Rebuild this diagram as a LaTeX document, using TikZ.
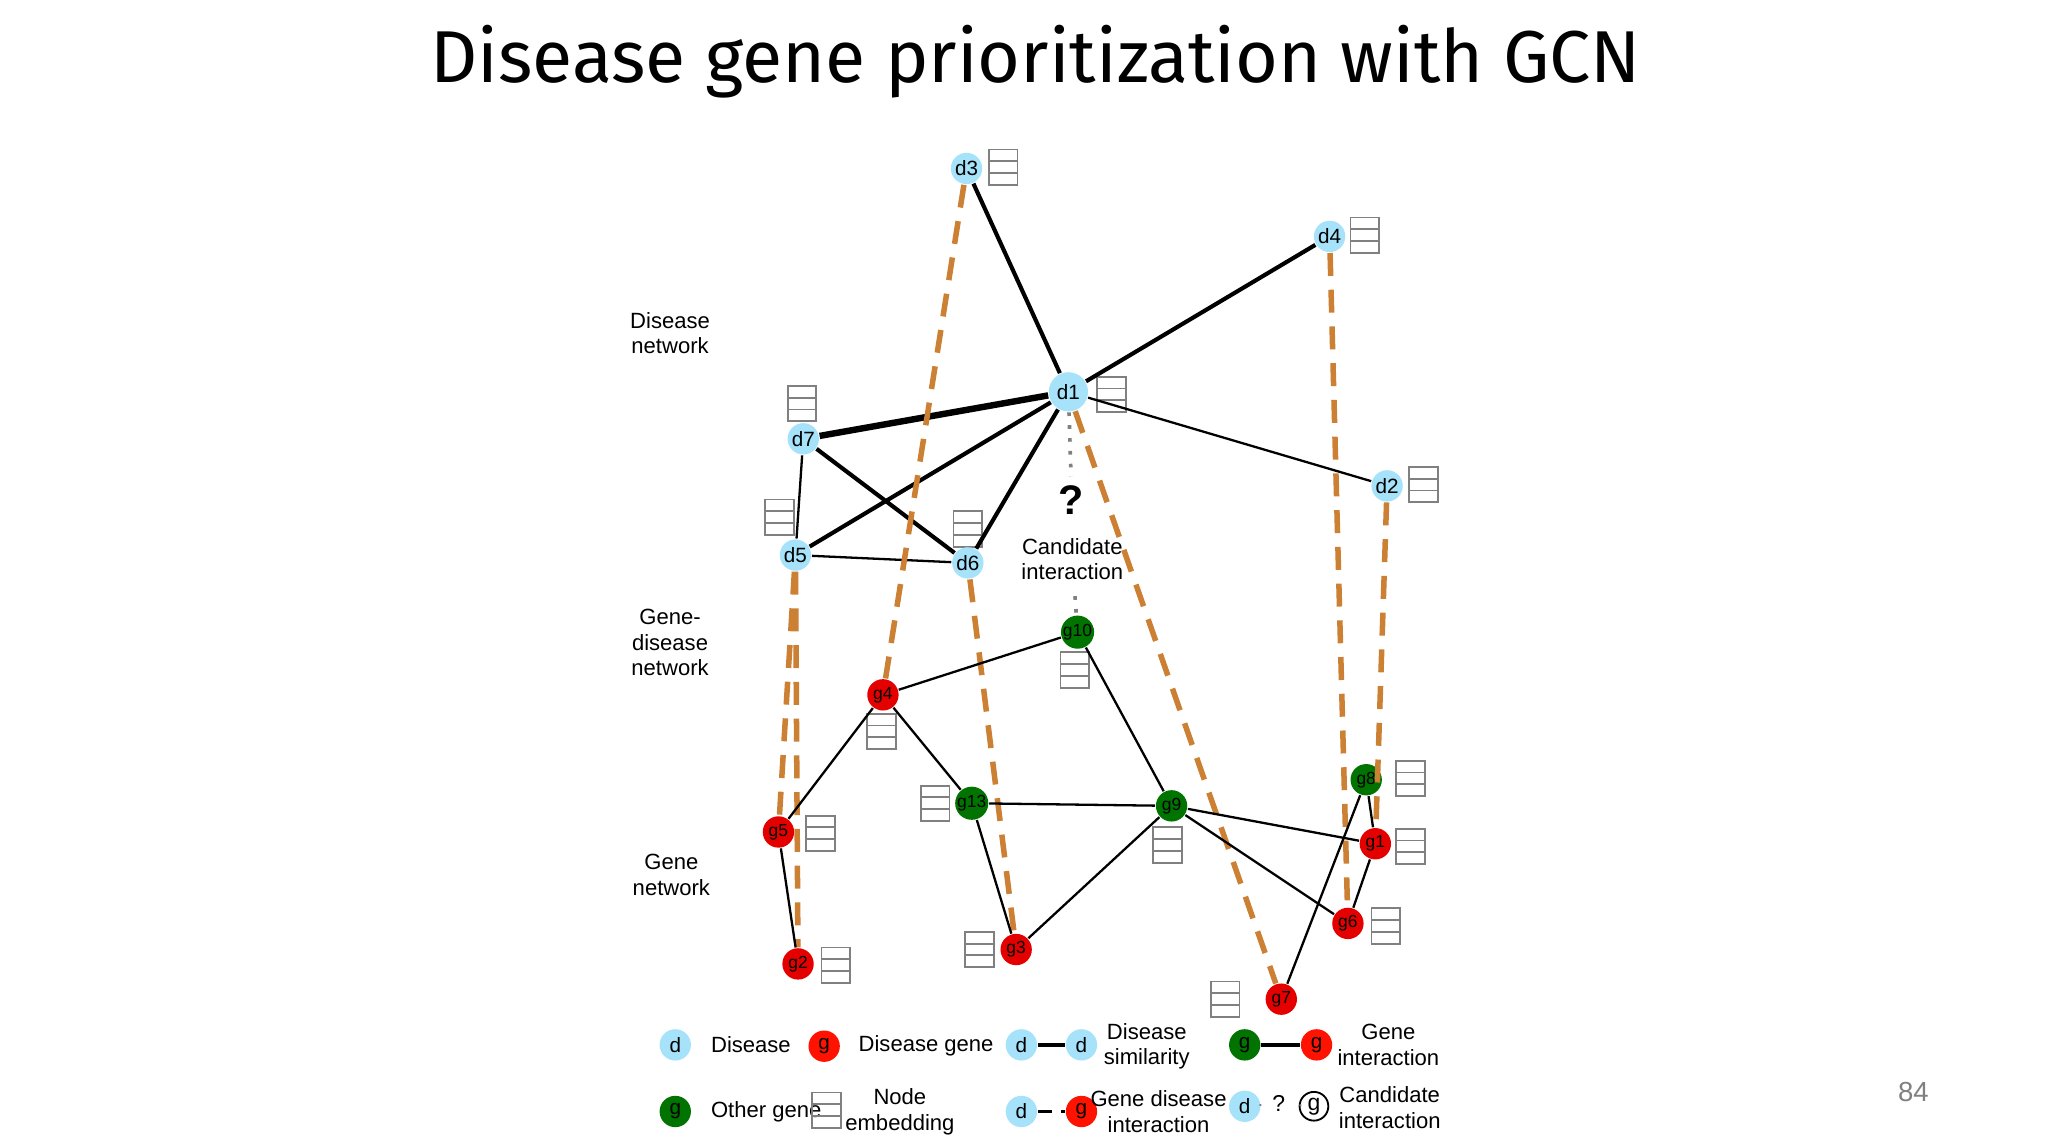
\documentclass[tikz,border=0pt]{standalone}
\usepackage{fontspec}
\setmainfont{Liberation Sans}
\newfontfamily\titlefont{Fira Sans}
\begin{document}
\begin{tikzpicture}[x=0.01cm,y=-0.01cm,
 dn/.style={circle,fill=cyan!35!white,minimum size=0.24cm,inner sep=0pt,font=\fontsize{4.5}{5}\selectfont},
 rg/.style={circle,fill=red!90!black,minimum size=0.24cm,inner sep=0pt,font=\fontsize{3.8}{4}\selectfont},
 gg/.style={circle,fill=green!45!black,minimum size=0.24cm,inner sep=0pt,font=\fontsize{3.8}{4}\selectfont},
 emb/.style={draw=gray,thin,minimum width=0.22cm,minimum height=0.27cm,inner sep=0pt,
   path picture={\draw[gray,thin] ([yshift=0.09cm]path picture bounding box.south west) -- ([yshift=0.09cm]path picture bounding box.south east) ([yshift=0.18cm]path picture bounding box.south west) -- ([yshift=0.18cm]path picture bounding box.south east);}},
 gd/.style={draw=brown!80!orange,line width=1.2pt,dash pattern=on 5pt off 3pt},
 dd/.style={draw=black,line width=0.9pt},
 ge/.style={draw=black,line width=0.5pt},
 lbl/.style={font=\fontsize{4.8}{5.6}\selectfont,align=center}]
\useasboundingbox (0,0) rectangle (1568,877);
\node[font=\titlefont\fontsize{16}{19}\selectfont] (title) at (793,47) {Disease gene prioritization with GCN};
\node[text=gray,font=\fontsize{6}{7}\selectfont] (pg) at (1465,836) {84};
\node[lbl] (l1) at (513,255) {Disease\\network};
\node[lbl] (l2) at (513,492) {Gene-\\disease\\network};
\node[lbl] (l3) at (514,670) {Gene\\network};
\foreach \n/\x/\y in {e3/768/128,e4/1045/180,e1/851/302,e7/614/309,e2/1090/371,e5/597/396,e6/741/405,eg10/823/513,eg4/675/560,eg13/716/615,eg9/894/647,eg8/1080/596,eg1/1080/648,eg5/628/638,eg6/1061/709,eg2/640/739,eg3/750/727,eg7/938/765}
  \node[emb] (\n) at (\x,\y) {};
\node[dn] (d3) at (740,129) {d3};
\node[dn] (d4) at (1018,181) {d4};
\node[dn,minimum size=0.3cm] (d1) at (818,300) {d1};
\node[dn] (d7) at (615,336) {d7};
\node[dn] (d2) at (1062,372) {d2};
\node[dn] (d5) at (609,425) {d5};
\node[dn] (d6) at (741,431) {d6};
\node[gg] (g10) at (825,484) {g10};
\node[rg] (g4) at (676,532) {g4};
\node[gg] (g13) at (744,615) {g13};
\node[gg] (g9) at (897,617) {g9};
\node[gg] (g8) at (1046,597) {g8};
\node[rg] (g1) at (1053,646) {g1};
\node[rg] (g5) at (596,637) {g5};
\node[rg] (g6) at (1032,707) {g6};
\node[rg] (g2) at (611,738) {g2};
\node[rg] (g3) at (778,727) {g3};
\node[rg] (g7) at (981,765) {g7};
\draw[dd] (d3)--(d1) (d4)--(d1) (d1)--(d5) (d1)--(d6) (d7)--(d6);
\draw[dd,line width=1.4pt] (d1)--(d7);
\draw[ge] (d1)--(d2) (d5)--(d6) (d7)--(d5);
\draw[gd] (d3)--(g4) (d5)--(g5) (d5)--(g2) (d6)--(g3) (d1)--(g7) (d4)--(g6) (d2)--(g1);
\draw[ge] (g4)--(g10) (g4)--(g5) (g4)--(g13) (g10)--(g9) (g13)--(g9) (g13)--(g3) (g9)--(g3) (g9)--(g1) (g9)--(g6) (g8)--(g1) (g8)--(g7) (g1)--(g6) (g5)--(g2);
\coordinate (qa) at (820,365);
\draw[gray,dotted,line width=0.8pt] (d1)--(qa);
\node[font=\fontsize{9}{10}\selectfont\bfseries] (q) at (820,383) {?};
\node[lbl] (ci) at (821,428) {Candidate\\interaction};
\draw[gray,dotted,line width=0.8pt] (ci)--(g10);
% legend
\node[dn] (ld1) at (517,800) {d};
\node[lbl,anchor=west] (lt1) at (532,800) {Disease};
\node[rg,fill=red!85!orange,font=\fontsize{4.5}{5}\selectfont] (lg1) at (631,801) {g};
\node[lbl,anchor=west] (lt2) at (645,801) {Disease gene};
\node[dn] (ld2) at (782,800) {d};
\node[dn] (ld3) at (828,800) {d};
\draw[dd] (ld2)--(ld3);
\node[lbl] (lt3) at (878,801) {Disease\\similarity};
\node[gg,font=\fontsize{4.5}{5}\selectfont] (lg2) at (953,800) {g};
\node[rg,fill=red!85!orange,font=\fontsize{4.5}{5}\selectfont] (lg3) at (1008,800) {g};
\draw[dd] (lg2)--(lg3);
\node[lbl] (lt4) at (1063,800) {Gene\\interaction};
\node[gg,font=\fontsize{4.5}{5}\selectfont] (lg4) at (517,851) {g};
\node[lbl,anchor=west] (lt5) at (532,851) {Other gene};
\node[emb] (le) at (633,850) {};
\node[lbl] (lt6) at (689,851) {Node\\embedding};
\node[dn] (ld4) at (782,851) {d};
\node[rg,fill=red!85!orange,font=\fontsize{4.5}{5}\selectfont] (lg5) at (828,851) {g};
\draw[ge,dash pattern=on 3pt off 2pt,line width=0.8pt] (ld4)--(lg5);
\node[lbl] (lt7) at (887,851) {Gene disease\\interaction};
\node[dn] (ld5) at (953,847) {d};
\node[circle,draw,minimum size=0.22cm,inner sep=0pt,font=\fontsize{5}{6}\selectfont] (lc) at (1006,847) {g};
\node[font=\fontsize{5}{6}\selectfont] (lq) at (979,845) {?};
\draw[gray,densely dotted] (ld5)--(lq) (lq)--(lc);
\node[lbl] (lt8) at (1064,848) {Candidate\\interaction};
\end{tikzpicture}
\end{document}
